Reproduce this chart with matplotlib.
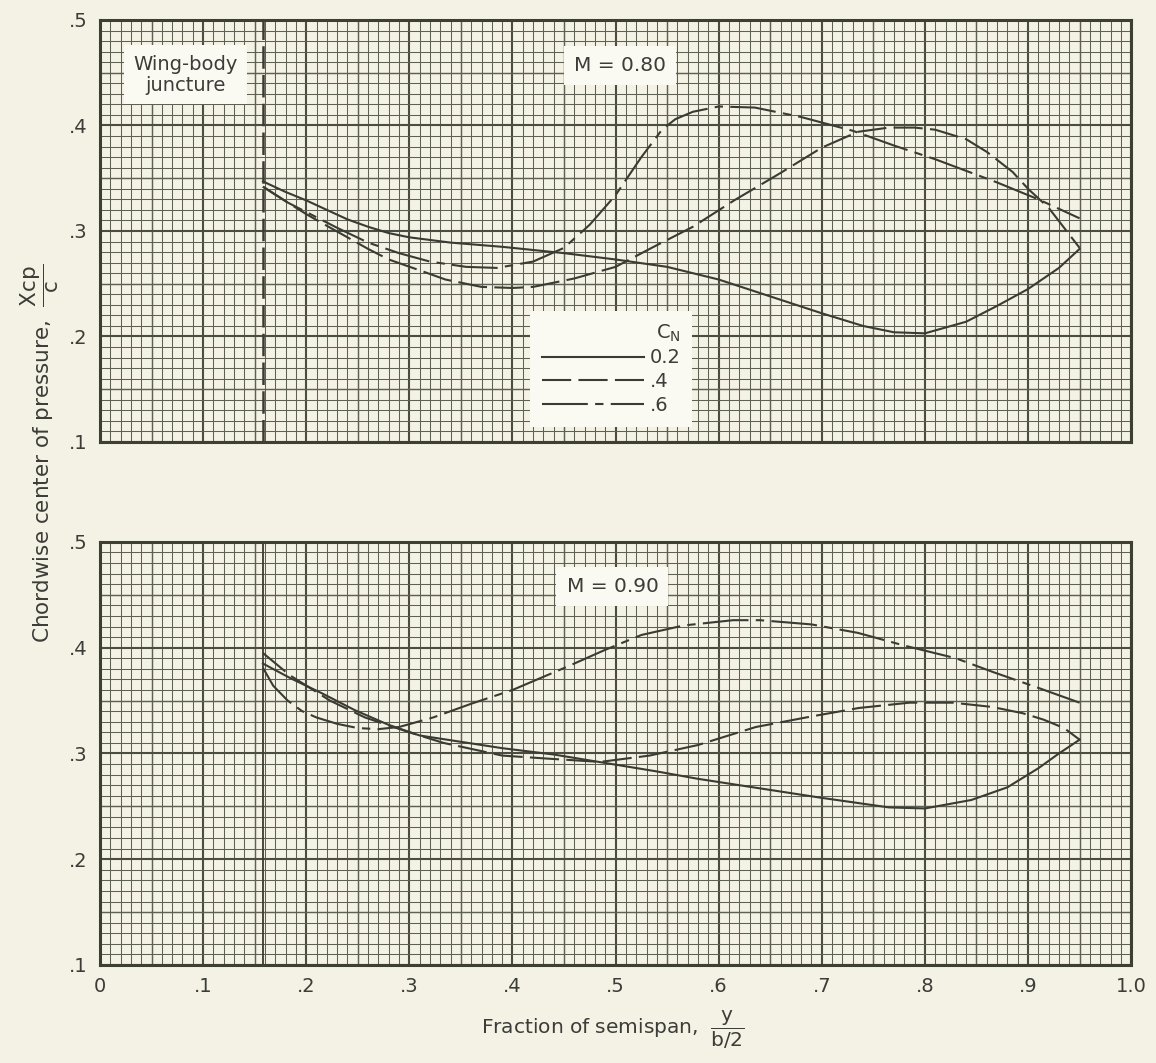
import numpy as np
import matplotlib
matplotlib.use("Agg")
import matplotlib.pyplot as plt

plt.rcParams["font.family"] = ["DejaVu Sans"]
plt.rcParams["mathtext.fontset"] = "dejavusans"

# ---- data: chordwise centre of pressure vs fraction of semispan ----
juncture = 0.158

# M = 0.80
m80_cn02_x = [0.158, 0.18, 0.20, 0.22, 0.24, 0.26, 0.28, 0.30, 0.34, 0.39, 0.45, 0.50, 0.55, 0.60,
              0.65, 0.70, 0.74, 0.77, 0.80, 0.84, 0.87, 0.90, 0.93, 0.95]
m80_cn02_y = [0.347, 0.337, 0.329, 0.320, 0.311, 0.304, 0.298, 0.294, 0.289, 0.285, 0.279, 0.273, 0.266,
              0.254, 0.238, 0.222, 0.210, 0.204, 0.203, 0.214, 0.229, 0.245, 0.265, 0.283]

m80_cn04_x = [0.158, 0.182, 0.20, 0.218, 0.24, 0.26, 0.28, 0.315, 0.335, 0.37, 0.40, 0.42, 0.46,
              0.50, 0.535, 0.575, 0.615, 0.66, 0.70, 0.735, 0.765, 0.79, 0.81, 0.84, 0.86,
              0.885, 0.90, 0.92, 0.95]
m80_cn04_y = [0.342, 0.327, 0.316, 0.306, 0.294, 0.283, 0.273, 0.261, 0.254, 0.247, 0.246, 0.247, 0.255,
              0.266, 0.284, 0.304, 0.329, 0.355, 0.379, 0.394, 0.398, 0.398, 0.396, 0.387, 0.375,
              0.356, 0.340, 0.322, 0.284]

m80_cn06_x = [0.158, 0.182, 0.20, 0.23, 0.26, 0.29, 0.32, 0.355, 0.385, 0.42, 0.45, 0.475, 0.50,
              0.525, 0.545, 0.558, 0.575, 0.60, 0.635, 0.68, 0.73, 0.77, 0.81, 0.87, 0.91, 0.95]
m80_cn06_y = [0.342, 0.327, 0.318, 0.303, 0.289, 0.279, 0.271, 0.266, 0.265, 0.271, 0.284, 0.306, 0.334,
              0.370, 0.396, 0.406, 0.413, 0.418, 0.417, 0.408, 0.395, 0.381, 0.368, 0.346, 0.330, 0.312]

# M = 0.90
m90_cn02_x = [0.158, 0.185, 0.215, 0.247, 0.28, 0.31, 0.35, 0.39, 0.44, 0.49, 0.54, 0.58, 0.64,
              0.70, 0.765, 0.80, 0.845, 0.88, 0.91, 0.93, 0.95]
m90_cn02_y = [0.385, 0.371, 0.357, 0.341, 0.327, 0.317, 0.311, 0.305, 0.299, 0.291, 0.283, 0.276, 0.267,
              0.258, 0.249, 0.248, 0.256, 0.268, 0.286, 0.300, 0.313]

m90_cn04_x = [0.158, 0.184, 0.223, 0.257, 0.30, 0.333, 0.39, 0.436, 0.485, 0.533, 0.58, 0.636,
              0.69, 0.736, 0.785, 0.827, 0.865, 0.895, 0.915, 0.935, 0.95]
m90_cn04_y = [0.395, 0.374, 0.350, 0.334, 0.320, 0.310, 0.298, 0.295, 0.292, 0.298, 0.308, 0.325,
              0.335, 0.343, 0.348, 0.348, 0.344, 0.338, 0.332, 0.324, 0.313]

m90_cn06_x = [0.158, 0.168, 0.182, 0.196, 0.21, 0.23, 0.25, 0.27, 0.29, 0.323, 0.36, 0.40, 0.453, 0.49,
              0.525, 0.566, 0.614, 0.64, 0.69, 0.735, 0.78, 0.83, 0.866, 0.91, 0.95]
m90_cn06_y = [0.381, 0.364, 0.350, 0.340, 0.334, 0.328, 0.324, 0.323, 0.325, 0.334, 0.347, 0.360, 0.382,
              0.398, 0.412, 0.421, 0.426, 0.426, 0.422, 0.414, 0.402, 0.390, 0.377, 0.362, 0.348]

cn_labels = ["0.2", ".4", ".6"]
mach_labels = ["M = 0.80", "M = 0.90"]
y_ticks = [0.1, 0.2, 0.3, 0.4, 0.5]
y_tick_labels = [".1", ".2", ".3", ".4", ".5"]
x_ticks = [0.0, 0.1, 0.2, 0.3, 0.4, 0.5, 0.6, 0.7, 0.8, 0.9, 1.0]
x_tick_labels = ["0", ".1", ".2", ".3", ".4", ".5", ".6", ".7", ".8", ".9", "1.0"]

# ---- styling ----
paper = "#f4f2e4"
ink = "#3a3b32"
grid_ink = "#5d6052"
text_ink = "#3c3c38"
styles = ["-", (0, (14, 3.5)), (0, (22, 3.5, 4, 3.5))]

fig = plt.figure(figsize=(11.56, 10.63), dpi=100, facecolor=paper)
ax_top = fig.add_axes([0.0865, 0.5842, 0.892, 0.397])
ax_bot = fig.add_axes([0.0865, 0.0922, 0.892, 0.398])


def graph_paper(ax):
    ax.set_facecolor(paper)
    ax.set_xlim(0, 1.0)
    ax.set_ylim(0.1, 0.5)
    for v in np.arange(0.0, 1.0001, 0.01):
        i = int(round(v * 100))
        if i % 10 == 0:
            lw, c = 1.5, "#4b4d40"
        elif i % 5 == 0:
            lw, c = 1.05, grid_ink
        else:
            lw, c = 0.75, grid_ink
        ax.axvline(v, color=c, lw=lw, zorder=1)
    for v in np.arange(0.1, 0.5001, 0.01):
        i = int(round(v * 100))
        if i % 10 == 0:
            lw, c = 1.5, "#4b4d40"
        elif i % 5 == 0:
            lw, c = 1.05, grid_ink
        else:
            lw, c = 0.75, grid_ink
        ax.axhline(v, color=c, lw=lw, zorder=1)
    for s in ax.spines.values():
        s.set_linewidth(2.2)
        s.set_color("#3d3f33")
        s.set_zorder(5)
    ax.set_yticks(y_ticks)
    ax.set_yticklabels(y_tick_labels)
    ax.set_xticks(x_ticks)
    ax.tick_params(length=0, labelsize=14, colors=text_ink, pad=9)


graph_paper(ax_top)
graph_paper(ax_bot)
ax_top.set_xticklabels([])
ax_bot.set_xticklabels(x_tick_labels)

# juncture line
ax_top.axvline(juncture, color=ink, lw=1.8, ls=(0, (9, 2.5)), zorder=2)
ax_bot.axvline(juncture, color=ink, lw=1.3, zorder=2)

top_series = [(m80_cn02_x, m80_cn02_y), (m80_cn04_x, m80_cn04_y), (m80_cn06_x, m80_cn06_y)]
bot_series = [(m90_cn02_x, m90_cn02_y), (m90_cn04_x, m90_cn04_y), (m90_cn06_x, m90_cn06_y)]

for (x, y), ls, lab in zip(top_series, styles, cn_labels):
    ax_top.plot(x, y, color=ink, lw=1.5, ls=ls, label=lab, zorder=4,
                solid_joinstyle="round", dash_capstyle="butt")
for (x, y), ls in zip(bot_series, styles):
    ax_bot.plot(x, y, color=ink, lw=1.5, ls=ls, zorder=4, solid_joinstyle="round")

box = dict(boxstyle="square,pad=0.5", facecolor="#fafaf3", edgecolor="none")
ax_top.text(0.083, 0.870, "Wing-body\njuncture", transform=ax_top.transAxes, ha="center",
            va="center", fontsize=14, color=text_ink, bbox=box, zorder=6, linespacing=1.1)
ax_top.text(0.504, 0.893, mach_labels[0], transform=ax_top.transAxes, ha="center",
            va="center", fontsize=14.5, color=text_ink, bbox=box, zorder=6)
ax_bot.text(0.497, 0.894, mach_labels[1], transform=ax_bot.transAxes, ha="center",
            va="center", fontsize=14.5, color=text_ink, bbox=box, zorder=6)

leg = ax_top.legend(title=r"C$_\mathsf{N}$", loc="lower left", bbox_to_anchor=(0.417, 0.036),
                    handlelength=5.25, handletextpad=0.3, fontsize=14, title_fontsize=14,
                    frameon=True, fancybox=False, borderpad=0.6, labelspacing=0.25,
                    alignment="right", labelcolor=text_ink, borderaxespad=0.0)
leg.get_frame().set_facecolor("#fafaf3")
leg.get_frame().set_edgecolor("none")
leg.get_frame().set_alpha(1.0)
leg.get_title().set_color(text_ink)
leg.set_zorder(6)

fig.text(0.034, 1 - 453 / 1063,
         r"Chordwise center of pressure,  $\dfrac{\mathsf{Xcp}}{\mathsf{c}}$",
         rotation=90, ha="center", va="center", fontsize=15.5, color=text_ink)
fig.text(613 / 1156, 1 - 1030 / 1063,
         r"Fraction of semispan,  $\dfrac{\mathsf{y}}{\mathsf{b/2}}$",
         ha="center", va="center", fontsize=14.5, color=text_ink)

fig.savefig("out.png", dpi=100, facecolor=paper)
